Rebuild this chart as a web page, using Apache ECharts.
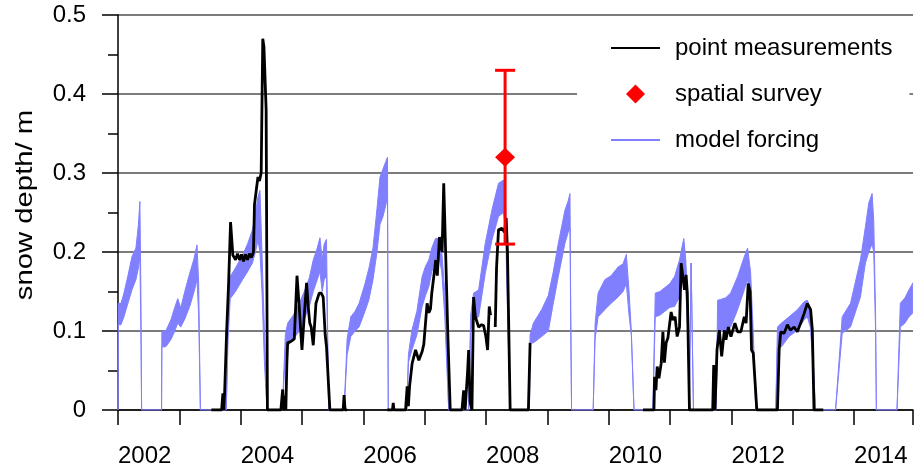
<!DOCTYPE html>
<html><head><meta charset="utf-8">
<script src="https://cdn.jsdelivr.net/npm/echarts@6/dist/echarts.min.js"></script>
<style>html,body{margin:0;padding:0;background:#fff}#chart{width:916px;height:470px}</style>
</head><body><div id="chart"></div>
<script>
const FONT = "'Liberation Sans', Arial, sans-serif";

// model forcing band (decimal year, lower and upper snow depth in m)
const bandYear = [
  2002.000, 2002.005, 2002.049, 2002.097, 2002.162, 2002.227, 2002.292, 2002.333, 2002.357, 2002.373, 2002.385,
  2002.710, 2002.715, 2002.779, 2002.861, 2002.926, 2002.974, 2003.023, 2003.088, 2003.169, 2003.234, 2003.288, 2003.315, 2003.343,
  2003.765, 2003.794, 2003.830, 2003.916, 2004.030, 2004.111, 2004.192, 2004.241, 2004.282, 2004.314, 2004.347, 2004.387, 2004.428,
  2004.679, 2004.728, 2004.766, 2004.858, 2004.955, 2005.037, 2005.118, 2005.183, 2005.248, 2005.292, 2005.329, 2005.361, 2005.399, 2005.418, 2005.435,
  2005.686, 2005.735, 2005.795, 2005.865, 2005.930, 2006.027, 2006.092, 2006.157, 2006.222, 2006.271, 2006.320, 2006.368, 2006.393, 2006.406,
  2006.709, 2006.734, 2006.791, 2006.872, 2006.958, 2007.013, 2007.067, 2007.115, 2007.175, 2007.229, 2007.278, 2007.326, 2007.391,
  2007.716, 2007.749, 2007.797, 2007.879, 2007.987, 2008.095, 2008.203, 2008.284, 2008.317, 2008.358, 2008.393,
  2008.707, 2008.718, 2008.772, 2008.906, 2009.015, 2009.096, 2009.178, 2009.286, 2009.340, 2009.368, 2009.381, 2009.394,
  2009.746, 2009.778, 2009.827, 2009.936, 2010.038, 2010.152, 2010.233, 2010.287, 2010.331, 2010.368, 2010.412,
  2010.720, 2010.758, 2010.834, 2010.915, 2010.996, 2011.073, 2011.154, 2011.191, 2011.224, 2011.256, 2011.289, 2011.313, 2011.343, 2011.381,
  2011.748, 2011.776, 2011.825, 2011.906, 2011.987, 2012.101, 2012.209, 2012.263, 2012.312, 2012.360, 2012.398,
  2012.723, 2012.750, 2012.815, 2012.940, 2013.075, 2013.184, 2013.237, 2013.286, 2013.335, 2013.372,
  2013.697, 2013.806, 2013.941, 2014.103, 2014.184, 2014.239, 2014.293, 2014.320, 2014.350, 2014.363,
  2014.699, 2014.753, 2014.829, 2014.894, 2014.959
];
const bandLow = [
  0, 0.108, 0.108, 0.118, 0.135, 0.152, 0.165, 0.18, 0.194, 0.1, 0,
  0, 0.08, 0.08, 0.089, 0.1, 0.11, 0.105, 0.115, 0.131, 0.148, 0.165, 0.12, 0,
  0, 0.09, 0.141, 0.15, 0.165, 0.175, 0.186, 0.2, 0.215, 0.2, 0.15, 0.06, 0,
  0, 0.07, 0.081, 0.09, 0.1, 0.115, 0.131, 0.15, 0.165, 0.175, 0.15, 0.165, 0.17, 0.08, 0,
  0, 0.07, 0.093, 0.1, 0.105, 0.125, 0.14, 0.165, 0.2, 0.235, 0.245, 0.26, 0.27, 0,
  0, 0.06, 0.076, 0.095, 0.131, 0.145, 0.156, 0.175, 0.19, 0.195, 0.175, 0.12, 0,
  0, 0.1, 0.114, 0.118, 0.173, 0.215, 0.245, 0.25, 0.23, 0.1, 0,
  0, 0.085, 0.085, 0.093, 0.1, 0.135, 0.169, 0.211, 0.225, 0.23, 0.1, 0,
  0, 0.09, 0.118, 0.127, 0.135, 0.143, 0.15, 0.16, 0.12, 0.095, 0,
  0, 0.118, 0.12, 0.125, 0.13, 0.131, 0.143, 0.16, 0.175, 0.15, 0.1, 0, 0.186, 0,
  0, 0.092, 0.1, 0.1, 0.105, 0.127, 0.152, 0.165, 0.14, 0.07, 0,
  0, 0.08, 0.08, 0.093, 0.101, 0.114, 0.118, 0.105, 0.05, 0,
  0, 0.097, 0.105, 0.143, 0.186, 0.2, 0.21, 0.2, 0.1, 0,
  0, 0.105, 0.11, 0.118, 0.123
];
const bandHigh = [
  0, 0.135, 0.135, 0.148, 0.17, 0.194, 0.205, 0.235, 0.264, 0.15, 0,
  0, 0.1, 0.1, 0.114, 0.13, 0.141, 0.129, 0.15, 0.173, 0.19, 0.209, 0.16, 0,
  0, 0.11, 0.169, 0.18, 0.196, 0.21, 0.228, 0.25, 0.27, 0.278, 0.2, 0.1, 0,
  0, 0.095, 0.11, 0.12, 0.135, 0.15, 0.167, 0.19, 0.205, 0.218, 0.19, 0.21, 0.216, 0.1, 0,
  0, 0.09, 0.118, 0.125, 0.135, 0.16, 0.18, 0.205, 0.255, 0.295, 0.305, 0.315, 0.32, 0,
  0, 0.07, 0.101, 0.125, 0.169, 0.182, 0.19, 0.205, 0.217, 0.217, 0.2, 0.15, 0,
  0, 0.12, 0.148, 0.152, 0.211, 0.253, 0.287, 0.291, 0.27, 0.15, 0,
  0, 0.095, 0.11, 0.127, 0.145, 0.175, 0.211, 0.253, 0.265, 0.274, 0.12, 0,
  0, 0.11, 0.148, 0.165, 0.17, 0.181, 0.185, 0.197, 0.15, 0.1, 0,
  0, 0.148, 0.15, 0.155, 0.16, 0.169, 0.19, 0.205, 0.217, 0.19, 0.13, 0, 0.186, 0,
  0, 0.139, 0.14, 0.142, 0.148, 0.169, 0.194, 0.205, 0.175, 0.09, 0,
  0, 0.105, 0.11, 0.118, 0.127, 0.137, 0.139, 0.128, 0.06, 0,
  0, 0.118, 0.135, 0.19, 0.232, 0.262, 0.274, 0.24, 0.12, 0,
  0, 0.135, 0.142, 0.152, 0.161
];

// point measurements (null = no data)
const pmYear = [
  2003.522, 2003.689, 2003.710, 2003.729, 2003.754, 2003.770, 2003.803, 2003.835, 2003.872, 2003.916, 2003.949, 2003.981, 2004.014, 2004.046, 2004.079, 2004.111, 2004.144, 2004.176, 2004.208, 2004.225, 2004.257, 2004.282, 2004.306, 2004.334, 2004.360, 2004.379, 2004.415, 2004.436,
  2004.655, 2004.684, 2004.704, 2004.720, 2004.736, 2004.753, 2004.766, 2004.826, 2004.874, 2004.918, 2004.955, 2004.999, 2005.037, 2005.074, 2005.102, 2005.126, 2005.150, 2005.183, 2005.227, 2005.280, 2005.313, 2005.345, 2005.378, 2005.399, 2005.454,
  2005.670, 2005.686, 2005.702, 2005.735, 2006.000,
  2006.389, 2006.474, 2006.487, 2006.498, 2006.688, 2006.714, 2006.734, 2006.753, 2006.795, 2006.851, 2006.904, 2006.958, 2006.985, 2007.039, 2007.067, 2007.094, 2007.115, 2007.148, 2007.180, 2007.205, 2007.240, 2007.283, 2007.310, 2007.334, 2007.375, 2007.416,
  2007.607, 2007.635, 2007.659, 2007.700, 2007.716, 2007.740, 2007.770, 2007.797, 2007.825, 2007.879, 2007.927, 2007.960, 2007.997, 2008.025, 2008.052, 2008.073, 2008.110, 2008.150, 2008.171, 2008.203, 2008.257, 2008.301, 2008.328, 2008.349, 2008.393,
  2008.690, 2008.718, 2009.500,
  2010.558, 2010.737, 2010.748, 2010.769, 2010.790, 2010.818, 2010.845, 2010.855, 2010.883, 2010.907, 2010.936, 2010.964, 2011.017, 2011.045, 2011.082, 2011.115, 2011.154, 2011.180, 2011.208, 2011.235, 2011.261, 2011.281, 2011.316,
  2011.695, 2011.711, 2011.732, 2011.765, 2011.803, 2011.841, 2011.885, 2011.911, 2011.950, 2011.992, 2012.057, 2012.101, 2012.154, 2012.209, 2012.239, 2012.274, 2012.304, 2012.328, 2012.356, 2012.414,
  2012.750, 2012.778, 2012.804, 2012.859, 2012.913, 2012.961, 2013.021, 2013.075, 2013.129, 2013.184, 2013.237, 2013.291, 2013.319, 2013.346, 2013.497
];
const pmDepth = [
  0, 0, 0.021, 0, 0, 0.097, 0.16, 0.238, 0.196, 0.19, 0.198, 0.19, 0.197, 0.188, 0.197, 0.19, 0.198, 0.193, 0.2, 0.26, 0.28, 0.295, 0.29, 0.3, 0.47, 0.46, 0.38, 0,
  0, 0.026, 0, 0.018, 0, 0.06, 0.085, 0.087, 0.09, 0.17, 0.13, 0.076, 0.12, 0.161, 0.13, 0.11, 0.105, 0.082, 0.135, 0.148, 0.148, 0.143, 0.095, 0.08, 0,
  0, 0.019, 0, 0, null,
  0, 0, 0.009, 0, 0, 0.03, 0.005, 0.03, 0.059, 0.076, 0.063, 0.074, 0.083, 0.135, 0.123, 0.128, 0.148, 0.169, 0.19, 0.17, 0.219, 0.2, 0.287, 0.22, 0.1, 0,
  0, 0.025, 0, 0.05, 0.076, 0.01, 0, 0.143, 0.118, 0.105, 0.108, 0.107, 0.093, 0.076, 0.131, 0.12, null, 0.105, 0.18, 0.228, 0.23, 0.225, 0.243, 0.2, 0,
  0, 0.085, null,
  0, 0, 0.042, 0.025, 0.055, 0.04, 0.038, 0.059, 0.099, 0.06, 0.085, 0.091, 0.124, 0.114, 0.118, 0.093, 0.105, 0.186, 0.169, 0.152, 0.171, 0.148, 0,
  0, 0.057, 0, 0.076, 0.101, 0.068, 0.101, 0.089, 0.105, 0.093, 0.11, 0.099, 0.099, 0.118, 0.11, 0.16, 0.15, 0.076, 0.072, 0,
  0, 0.076, 0.099, 0.097, 0.108, 0.101, 0.105, 0.099, 0.11, 0.122, 0.135, 0.127, 0.101, 0, 0
];

// spatial survey
const surveyYear = [2008.31];
const surveyDepth = [0.32];
const surveyMin = [0.21];
const surveyMax = [0.43];

const yAxisTitle = 'snow depth/ m';

const BLUE = '#8080ff';
const RED = '#ff0000';

const bandData = bandYear.map((x, i) => [x, bandLow[i], bandHigh[i]]);
const bandHighData = bandYear.map((x, i) => [x, bandHigh[i]]);
const bandLowData = bandYear.map((x, i) => [x, bandLow[i]]);
const pmData = pmYear.map((x, i) => [x, pmDepth[i] === null ? '-' : pmDepth[i]]);
const surveyData = surveyYear.map((x, i) => [x, surveyDepth[i]]);
const errData = surveyYear.map((x, i) => [x, surveyDepth[i], surveyMin[i], surveyMax[i]]);

const chart = echarts.init(document.getElementById('chart'), null, { renderer: 'canvas' });
chart.setOption({
  animation: false,
  backgroundColor: '#fff',
  grid: { left: 118, right: 0, top: 15, bottom: 60, containLabel: false },
  xAxis: {
    type: 'value', min: 2002, max: 2014.96, interval: 1,
    axisLine: { onZero: false, lineStyle: { color: '#000', width: 1.5 } },
    axisTick: { show: true, length: 15, lineStyle: { color: '#000', width: 1.5 } },
    axisLabel: {
      align: 'left', margin: 34, fontSize: 24, color: '#000', fontFamily: FONT,
      formatter: v => { const r = Math.round(v); return (Math.abs(v - r) < 1e-6 && r % 2 === 0) ? String(r) : ''; }
    },
    splitLine: { show: false }
  },
  yAxis: {
    type: 'value', min: 0, max: 0.5, interval: 0.1,
    axisLine: { show: true, lineStyle: { color: '#000', width: 1.5 } },
    axisTick: { show: true, length: 16, lineStyle: { color: '#000', width: 1.5 } },
    minorTick: { show: true, splitNumber: 2, length: 10, lineStyle: { color: '#000', width: 1.5 } },
    axisLabel: {
      margin: 32, fontSize: 24, color: '#000', fontFamily: FONT,
      formatter: v => (Math.abs(v) < 1e-9 ? '0' : v.toFixed(1))
    },
    splitLine: { show: true, lineStyle: { color: '#505050', width: 1.5 } }
  },
  legend: {
    orient: 'vertical', left: 577, top: 20, padding: [16, 17, 16, 33],
    backgroundColor: '#fff', itemGap: 22, itemWidth: 49, itemHeight: 19, align: 'left',
    selectedMode: false, symbolKeepAspect: true,
    textStyle: { fontSize: 24, color: '#000', fontFamily: FONT, padding: [0, 0, 0, 10] },
    data: [
      { name: 'point measurements', itemStyle: { opacity: 0 } },
      { name: 'spatial survey', icon: 'path://M10,0L20,10L10,20L0,10Z', itemStyle: { opacity: 1 } },
      { name: 'model forcing', itemStyle: { opacity: 0 } }
    ]
  },
  graphic: [{
    type: 'text', x: 25, y: 205, rotation: Math.PI / 2, scaleX: 1.22,
    style: {
      text: yAxisTitle, fontSize: 24, fontFamily: FONT, fill: '#000',
      align: 'center', verticalAlign: 'middle', textAlign: 'center', textVerticalAlign: 'middle'
    }
  }],
  series: [
    {
      name: 'band fill', type: 'custom', data: bandData, encode: { x: 0, y: [1, 2] }, z: 1, silent: true,
      renderItem: (params, api) => {
        if (params.dataIndex !== 0) return null;
        const upper = bandData.map(d => api.coord([d[0], d[2]]));
        const lower = bandData.map(d => api.coord([d[0], d[1]])).reverse();
        return {
          type: 'polygon', shape: { points: upper.concat(lower) },
          style: { fill: BLUE, stroke: null }
        };
      }
    },
    {
      name: 'model forcing', type: 'line', data: bandHighData, symbol: 'none',
      lineStyle: { color: BLUE, width: 1 }, itemStyle: { color: BLUE }, z: 2
    },
    {
      name: 'model forcing low', type: 'line', data: bandLowData, symbol: 'none', silent: true,
      lineStyle: { color: BLUE, width: 1 }, itemStyle: { color: BLUE }, z: 2
    },
    {
      name: 'point measurements', type: 'line', data: pmData, symbol: 'none', connectNulls: false,
      lineStyle: { color: '#000', width: 2.8 }, itemStyle: { color: '#000' }, z: 3
    },
    {
      name: 'survey error', type: 'custom', data: errData, encode: { x: 0, y: [1, 2, 3] }, z: 4,
      renderItem: (params, api) => {
        const x = api.value(0);
        const lo = api.coord([x, api.value(2)]);
        const hi = api.coord([x, api.value(3)]);
        const hw = 10;
        const st = { stroke: RED, lineWidth: 3 };
        return {
          type: 'group', children: [
            { type: 'line', shape: { x1: lo[0], y1: lo[1], x2: hi[0], y2: hi[1] }, style: st },
            { type: 'line', shape: { x1: lo[0] - hw, y1: lo[1], x2: lo[0] + hw, y2: lo[1] }, style: st },
            { type: 'line', shape: { x1: hi[0] - hw, y1: hi[1], x2: hi[0] + hw, y2: hi[1] }, style: st }
          ]
        };
      }
    },
    {
      name: 'spatial survey', type: 'scatter', data: surveyData, symbol: 'diamond', symbolSize: [20, 19],
      itemStyle: { color: RED, opacity: 1 }, z: 5
    }
  ]
});
</script>
</body></html>
